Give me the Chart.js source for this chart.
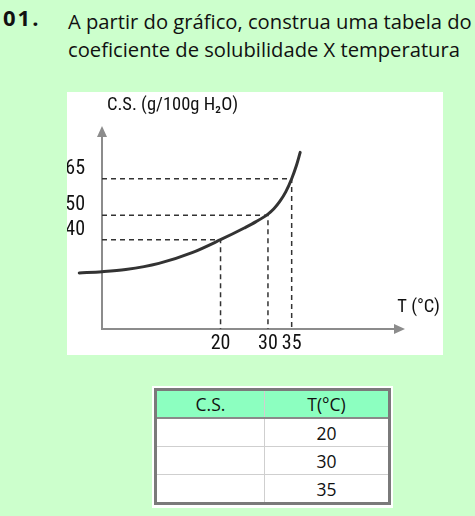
<!DOCTYPE html>
<html>
<head>
<meta charset="utf-8">
<script src="https://cdn.jsdelivr.net/npm/chart.js@4.4.0/dist/chart.umd.min.js"></script>
<style>
  html, body { margin: 0; padding: 0; }
  body {
    width: 475px; height: 516px; position: relative; overflow: hidden;
    background: #ccffcc; font-family: 'Open Sans', sans-serif; color: #111;
  }
  #num { position: absolute; left: 3px; top: 2px; font-size: 22px; font-weight: bold; letter-spacing: 2px; }
  #enunciado { position: absolute; left: 68px; top: 7px; margin: 0; font-size: 20.2px; line-height: 28px; white-space: nowrap; }
  #painel { position: absolute; left: 67px; top: 92px; width: 376px; height: 263px; background: #fff; }
  #tabelaFundo { position: absolute; left: 152px; top: 386px; width: 241px; height: 122px; background: #fff; }
  #tabela { position: absolute; left: 154px; top: 388px; width: 231px; border: 3px solid #7a7a7a; }
  table { border-collapse: collapse; width: 231px; font-size: 17.5px; }
  th { background: #8cffc0; height: 26px; padding: 0; font-weight: normal; border-bottom: 2px solid #8a8a8a; }
  td { height: 27px; padding: 0; text-align: center; border-top: 1px solid #cfcfcf; }
  th:first-child, td:first-child { width: 107px; border-right: 1px solid #cfcfcf; }
</style>
</head>
<body>
<div id="num">01.</div>
<p id="enunciado">A partir do gráfico, construa uma tabela do<br>coeficiente de solubilidade X temperatura</p>
<div id="painel"><canvas id="grafico" width="376" height="263"></canvas></div>
<div id="tabelaFundo"></div>
<div id="tabela">
  <table>
    <thead><tr><th>C.S.</th><th>T(°C)</th></tr></thead>
    <tbody id="corpoTabela"></tbody>
  </table>
</div>
<script>
// pontos marcados no gráfico
const refT = [20, 30, 35];
const refCS = [40, 50, 65];

// curva de solubilidade
const curveT = [-9.8, -5, 0, 7, 14, 20, 25, 27.5, 30, 31.25, 32.5, 33.75, 35, 36, 36.8];
const curveCS = [26.4, 26.9, 27.8, 30.3, 34.7, 40, 44.8, 47.4, 50.5, 52.7, 55.7, 59.6, 65, 70.4, 75.8];

const yTitle = 'C.S. (g/100g H₂O)';
const xTitle = 'T (°C)';

// faixa dos eixos (esquemático)
const xMin = -5, xMax = 58.9;
const yMin = 3.4, yMax = 86.6;

const fonteGrafico = "'Liberation Sans Narrow', 'Roboto Condensed', Roboto, sans-serif";

// tabela: só a coluna de temperatura é preenchida
const tbody = document.getElementById('corpoTabela');
refT.forEach(t => {
    const row = document.createElement('tr');
    row.innerHTML = `<td></td><td>${t}</td>`;
    tbody.appendChild(row);
});

const eixos = {
    id: 'eixos',
    beforeDatasetsDraw(chart) {
        const { ctx, chartArea: a } = chart;
        ctx.save();
        ctx.strokeStyle = '#8c8c8c';
        ctx.fillStyle = '#8c8c8c';
        ctx.lineWidth = 2;
        ctx.beginPath();
        ctx.moveTo(a.left, a.bottom);
        ctx.lineTo(a.left, a.top + 10);
        ctx.moveTo(a.left - 1, a.bottom);
        ctx.lineTo(a.right - 10, a.bottom);
        ctx.stroke();

        ctx.beginPath();
        ctx.moveTo(a.left, a.top);
        ctx.lineTo(a.left - 5, a.top + 11);
        ctx.lineTo(a.left + 5, a.top + 11);
        ctx.closePath();
        ctx.fill();

        ctx.beginPath();
        ctx.moveTo(a.right, a.bottom);
        ctx.lineTo(a.right - 11, a.bottom - 5);
        ctx.lineTo(a.right - 11, a.bottom + 5);
        ctx.closePath();
        ctx.fill();

        ctx.fillStyle = '#111';
        ctx.font = '18.5px ' + fonteGrafico;
        ctx.textBaseline = 'middle';
        ctx.textAlign = 'left';
        ctx.fillText(yTitle, a.left + 5, 13);
        ctx.textAlign = 'right';
        ctx.fillText(xTitle, a.right + 35, a.bottom - 22);
        ctx.restore();
    }
};

const datasets = [{
    data: curveT.map((t, i) => ({ x: t, y: curveCS[i] })),
    borderColor: '#333333',
    borderWidth: 3,
    borderCapStyle: 'round',
    pointRadius: 0,
    cubicInterpolationMode: 'monotone',
    clip: false
}];

refT.forEach((t, i) => {
    datasets.push({
        data: [
            { x: xMin, y: refCS[i] },
            { x: t, y: refCS[i] },
            { x: t, y: yMin }
        ],
        borderColor: '#333333',
        borderWidth: 1.5,
        borderDash: [5, 4],
        pointRadius: 0,
        tension: 0
    });
});

new Chart(document.getElementById('grafico'), {
    type: 'line',
    data: { datasets },
    plugins: [eixos],
    options: {
        responsive: false,
        animation: false,
        layout: { padding: { top: 34, right: 38, bottom: 0, left: 0 } },
        plugins: { legend: { display: false }, tooltip: { enabled: false } },
        scales: {
            x: {
                type: 'linear',
                min: xMin,
                max: xMax,
                grid: { display: false },
                border: { display: false },
                afterBuildTicks: scale => { scale.ticks = refT.map(v => ({ value: v })); },
                afterFit: scale => { scale.height = 26; },
                ticks: {
                    padding: -5,
                    maxRotation: 0,
                    autoSkip: false,
                    color: '#111',
                    font: { family: fonteGrafico, size: 20 }
                }
            },
            y: {
                type: 'linear',
                min: yMin,
                max: yMax,
                grid: { display: false },
                border: { display: false },
                afterBuildTicks: scale => { scale.ticks = refCS.map(v => ({ value: v })); },
                afterFit: scale => { scale.width = 35; },
                ticks: {
                    padding: 9,
                    labelOffset: -10,
                    color: '#111',
                    font: { family: fonteGrafico, size: 20 }
                }
            }
        }
    }
});
</script>
</body>
</html>
